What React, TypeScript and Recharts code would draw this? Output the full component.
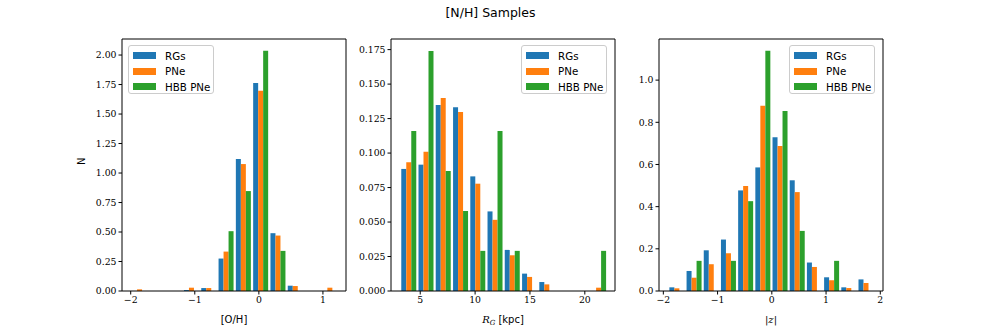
import { BarChart, Bar, XAxis, YAxis, ReferenceLine, Legend } from "recharts";

// bin centres and normalised counts
const OH_BINS = [-1.871, -1.601, -1.331, -1.061, -0.791, -0.521, -0.251, 0.019, 0.289, 0.559, 0.829, 1.099];
const OH_RG = [0, 0, 0, 0.008, 0.025, 0.275, 1.119, 1.762, 0.49, 0.045, 0, 0];
const OH_PNE = [0.014, 0, 0, 0.028, 0.025, 0.334, 1.076, 1.697, 0.47, 0.042, 0, 0.028];
const OH_HBB = [0, 0, 0, 0, 0, 0.507, 0.847, 2.037, 0.34, 0, 0, 0];

const RG_BINS = [3.9, 5.47, 7.04, 8.62, 10.19, 11.76, 13.33, 14.91, 16.48, 18.05, 19.63, 21.2];
const RG_RG = [0.0885, 0.0916, 0.1348, 0.1333, 0.0831, 0.0577, 0.0298, 0.0126, 0.0065, 0, 0, 0];
const RG_PNE = [0.0933, 0.101, 0.14, 0.1297, 0.0778, 0.0516, 0.0259, 0.0102, 0.0048, 0, 0, 0.0024];
const RG_HBB = [0.116, 0.174, 0.087, 0.058, 0.0291, 0.116, 0.0291, 0, 0, 0, 0, 0.0291];

const Z_BINS = [-1.762, -1.445, -1.128, -0.811, -0.494, -0.177, 0.14, 0.457, 0.774, 1.091, 1.408, 1.725];
const Z_RG = [0.0174, 0.095, 0.193, 0.244, 0.477, 0.586, 0.729, 0.525, 0.135, 0.065, 0.0174, 0.055];
const Z_PNE = [0.0127, 0.063, 0.127, 0.179, 0.498, 0.878, 0.688, 0.469, 0.114, 0.051, 0.014, 0.038];
const Z_HBB = [0, 0.143, 0, 0.143, 0.426, 1.139, 0.854, 0.285, 0, 0.143, 0, 0];

const OH_XTICKS = [-2, -1, 0, 1];
const OH_YTICKS = [0, 0.25, 0.5, 0.75, 1, 1.25, 1.5, 1.75, 2];
const RG_XTICKS = [5, 10, 15, 20];
const RG_YTICKS = [0, 0.025, 0.05, 0.075, 0.1, 0.125, 0.15, 0.175];
const Z_XTICKS = [-2, -1, 0, 1, 2];
const Z_YTICKS = [0, 0.2, 0.4, 0.6, 0.8, 1];

const SERIES = [
  { key: "rg", name: "RGs", color: "#1f77b4" },
  { key: "pne", name: "PNe", color: "#ff7f0e" },
  { key: "hbb", name: "HBB PNe", color: "#2ca02c" },
];

const SERIF = "'DejaVu Serif', serif";
const SANS = "'DejaVu Sans', sans-serif";

const fmtNum = (d: number) => (v: number) => v.toFixed(d).replace("-", "\u2212");

function LegendBox() {
  return (
    <div style={{ width: 86, height: 49, border: "1px solid #ccc", borderRadius: 3, background: "rgba(255,255,255,0.8)", fontFamily: SANS, fontSize: 10.3, color: "#000", boxSizing: "border-box", paddingTop: 2 }}>
      {SERIES.map(s => (
        <div key={s.key} style={{ display: "flex", alignItems: "center", height: 15.5 }}>
          <span style={{ display: "inline-block", width: 23, height: 7, background: s.color, marginLeft: 4, marginRight: 9 }} />
          <span>{s.name}</span>
        </div>
      ))}
    </div>
  );
}

interface PanelProps {
  left: number;
  bins: number[];
  rg: number[];
  pne: number[];
  hbb: number[];
  xDomain: [number, number];
  yDomain: [number, number];
  xTicks: number[];
  yTicks: number[];
  yDigits: number;
  xLabel: any;
  legendLeft: number;
  yLabel?: string;
}

function Panel(p: PanelProps) {
  const data = p.bins.map((x, i) => ({ x, rg: p.rg[i], pne: p.pne[i], hbb: p.hbb[i] }));
  return (
    <div style={{ position: "absolute", left: p.left, top: 0 }}>
      <BarChart width={278} height={327} data={data} margin={{ top: 39, right: 4, bottom: 0, left: 0 }} barCategoryGap="10%" barGap={0}>
        <XAxis
          type="number" dataKey="x" domain={p.xDomain} allowDataOverflow ticks={p.xTicks}
          tickFormatter={fmtNum(0)} height={36} tickSize={3.5}
          stroke="#000" tickLine={{ stroke: "#000" }}
          tick={{ fill: "#000", fontFamily: SERIF, fontSize: 9.3 }}
          label={p.xLabel}
        />
        <YAxis
          type="number" domain={p.yDomain} allowDataOverflow ticks={p.yTicks}
          tickFormatter={fmtNum(p.yDigits)} width={50} tickSize={3.5}
          stroke="#000" tickLine={{ stroke: "#000" }}
          tick={{ fill: "#000", fontFamily: SERIF, fontSize: 9.3 }}
          label={p.yLabel ? { value: p.yLabel, angle: -90, position: "insideLeft", offset: 9, style: { fontFamily: SANS, fontSize: 10, fill: "#000" } } : undefined}
        />
        {SERIES.map(s => (
          <Bar key={s.key} dataKey={s.key} name={s.name} fill={s.color} isAnimationActive={false} />
        ))}
        <ReferenceLine y={p.yDomain[1]} stroke="#000" />
        <ReferenceLine x={p.xDomain[1]} stroke="#000" />
        <Legend
          layout="horizontal" verticalAlign="middle" align="center"
          content={() => <LegendBox />}
          wrapperStyle={{ position: "absolute", top: 45, left: p.legendLeft, width: 86 }}
        />
      </BarChart>
    </div>
  );
}

const mkLabel = (content: any) => ({
  position: "insideBottom",
  content: (props: any) => {
    const vb = props.viewBox;
    return (
      <text x={vb.x + vb.width / 2} y={vb.y + vb.height - 4} textAnchor="middle" fontFamily={SANS} fontSize={10} fill="#000">
        {content}
      </text>
    );
  },
});

export default function App() {
  return (
    <div style={{ position: "absolute", left: 0, top: 0, width: 981, height: 327, background: "#fff" }}>
      <div style={{ position: "absolute", left: 0, width: 981, top: 5, textAlign: "center", fontFamily: SANS, fontSize: 12.5, color: "#000" }}>
        [N/H] Samples
      </div>
      <Panel
        left={72} bins={OH_BINS} rg={OH_RG} pne={OH_PNE} hbb={OH_HBB}
        xDomain={[-2.136, 1.36]} yDomain={[0, 2.136]} xTicks={OH_XTICKS} yTicks={OH_YTICKS} yDigits={2}
        xLabel={mkLabel("[O/H]")} legendLeft={56} yLabel="N"
      />
      <Panel
        left={341} bins={RG_BINS} rg={RG_RG} pne={RG_PNE} hbb={RG_HBB}
        xDomain={[2.336, 22.75]} yDomain={[0, 0.1827]} xTicks={RG_XTICKS} yTicks={RG_YTICKS} yDigits={3}
        xLabel={mkLabel(<><tspan fontFamily={SERIF} fontStyle="italic">R</tspan><tspan fontFamily={SERIF} fontStyle="italic" fontSize={7} dy={2}>G</tspan><tspan dy={-2}> [kpc]</tspan></>)}
        legendLeft={180}
      />
      <Panel
        left={609} bins={Z_BINS} rg={Z_RG} pne={Z_PNE} hbb={Z_HBB}
        xDomain={[-2.08, 2.05]} yDomain={[0, 1.195]} xTicks={Z_XTICKS} yTicks={Z_YTICKS} yDigits={1}
        xLabel={mkLabel(<><tspan fontFamily={SERIF}>|</tspan><tspan fontFamily={SERIF} fontStyle="italic">z</tspan><tspan fontFamily={SERIF}>|</tspan></>)}
        legendLeft={180}
      />
    </div>
  );
}
